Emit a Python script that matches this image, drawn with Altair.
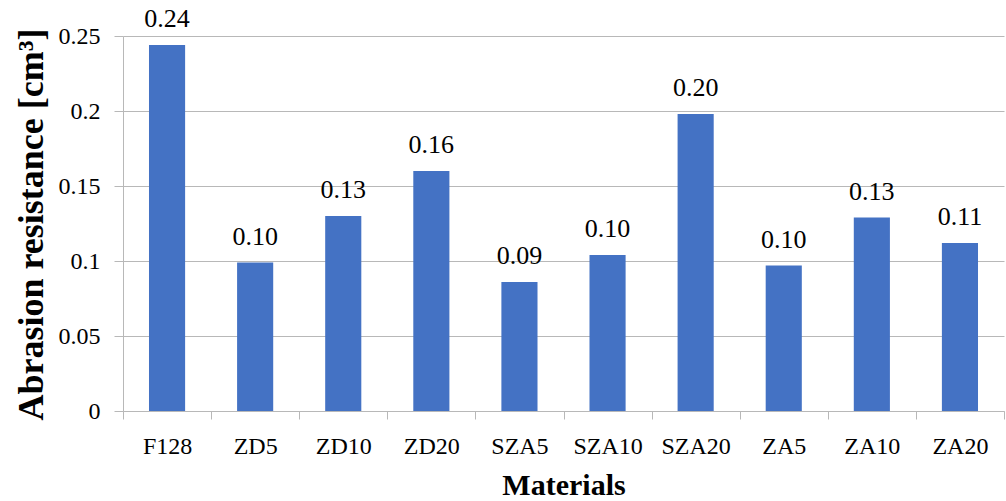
import altair as alt
import pandas as pd

# Abrasion resistance per material (cm³)
materials = ["F128", "ZD5", "ZD10", "ZD20", "SZA5", "SZA10", "SZA20", "ZA5", "ZA10", "ZA20"]
abrasion = [0.244, 0.099, 0.130, 0.160, 0.086, 0.104, 0.198, 0.097, 0.129, 0.112]
y_ticks = [0, 0.05, 0.1, 0.15, 0.2, 0.25]

df = pd.DataFrame({"material": materials, "value": abrasion})

FONT = "Liberation Serif"
GRID = "#b8b8b8"
BAR = "#4472C4"

x_enc = alt.X(
    "material:N",
    sort=materials,
    scale=alt.Scale(paddingInner=0, paddingOuter=0),
    axis=alt.Axis(
        title="Materials",
        titleFont=FONT,
        titleFontSize=30,
        titleFontWeight="bold",
        titleColor="black",
        titleBaseline="alphabetic",
        titleY=83,
        labelFont=FONT,
        labelFontSize=24,
        labelColor="black",
        labelAngle=0,
        labelPadding=15,
        labelBaseline="top",
        tickBand="extent",
        tickSize=8,
        tickColor=GRID,
        domainColor=GRID,
        grid=False,
    ),
)

y_enc = alt.Y(
    "value:Q",
    scale=alt.Scale(domain=[0, 0.25], nice=False),
    axis=alt.Axis(
        title="Abrasion resistance [cm³]",
        titleFont=FONT,
        titleFontSize=36,
        titleFontWeight="bold",
        titleColor="black",
        titleAngle=270,
        titleAlign="center",
        titleBaseline="alphabetic",
        titleX=-81,
        titleY=188,
        values=y_ticks,
        format=".2~f",
        labelFont=FONT,
        labelFontSize=24,
        labelColor="black",
        labelPadding=14,
        tickSize=9,
        tickColor=GRID,
        domainColor=GRID,
        gridColor=GRID,
        gridWidth=1,
    ),
)

bars = alt.Chart(df).mark_bar(color=BAR, width=alt.RelativeBandSize(0.41)).encode(
    x=x_enc, y=y_enc
)

labels = alt.Chart(df).mark_text(
    font=FONT, fontSize=26, color="black", baseline="alphabetic", dy=-18
).encode(
    x=alt.X("material:N", sort=materials),
    y="value:Q",
    text=alt.Text("value:Q", format=".2f"),
)

chart = (
    alt.layer(bars, labels)
    .properties(
        width=881,
        height=375,
        autosize=alt.AutoSizeParams(type="none"),
        padding={"left": 123, "top": 36, "right": 2, "bottom": 90},
        background="white",
    )
    .configure_view(stroke=None)
)

chart.save("out.html", embed_options={"renderer": "svg", "actions": False})
